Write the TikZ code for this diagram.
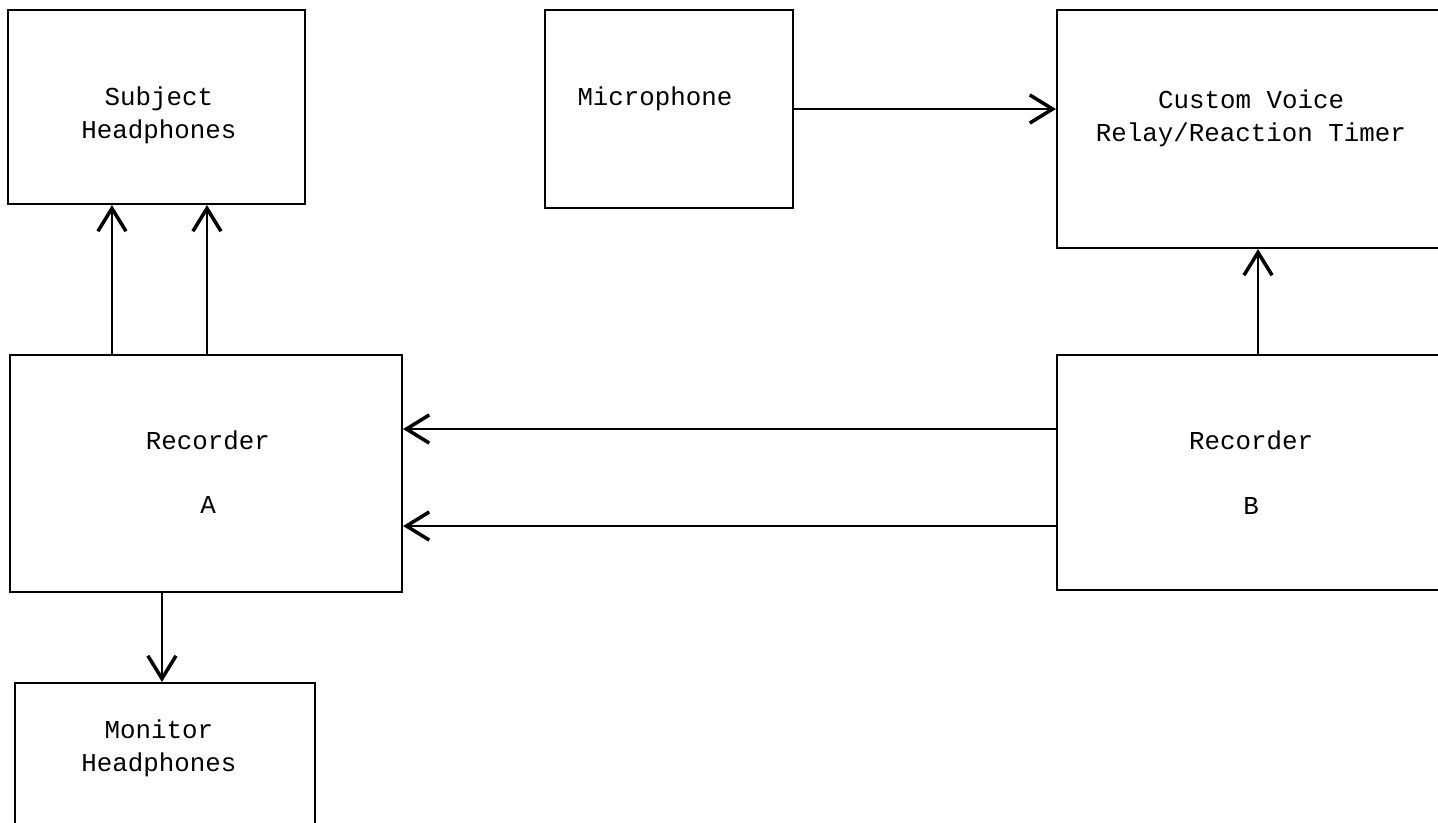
\documentclass[tikz,border=0pt]{standalone}
\usepackage{fontspec}
\usepackage{tikz}
\usetikzlibrary{arrows.meta, positioning}
\newfontfamily\typefont{Liberation Mono}

\tikzset{
    unit/.style={draw, line width=1.2pt, inner sep=0pt},
    lbl/.style={font=\typefont\fontsize{14.7}{18.8}\selectfont, align=center, inner sep=0pt},
    sig/.style={-{Straight Barb[length=13pt, width=16pt, line width=2pt]}, line width=1.1pt},
}

\begin{document}
\begin{tikzpicture}
    \useasboundingbox (0, 0) rectangle (28.76, -16.44);

    % boxes
    \node[unit, minimum width=5.94cm, minimum height=3.88cm] (subj) at (3.13, -2.14) {};
    \node[unit, minimum width=4.96cm, minimum height=3.96cm] (mic) at (13.38, -2.18) {};
    \node[unit, minimum width=7.76cm, minimum height=4.76cm] (timer) at (25.02, -2.58) {};
    \node[unit, minimum width=7.84cm, minimum height=4.74cm] (reca) at (4.12, -9.47) {};
    \node[unit, minimum width=7.76cm, minimum height=4.70cm] (recb) at (25.02, -9.45) {};
    \node[unit, minimum width=6.00cm, minimum height=3.14cm] (mon) at (3.30, -15.23) {};

    % texts
    \node[lbl] (subjlbl) at (3.18, -2.30) {Subject\\Headphones};
    \node[lbl] (miclbl) at (13.10, -1.98) {Microphone};
    \node[lbl] (timerlbl) at (25.02, -2.36) {Custom Voice\\Relay/Reaction Timer};
    \node[lbl] (recalbl) at (4.16, -9.44) {Recorder\\[18pt]A};
    \node[lbl] (recblbl) at (25.02, -9.45) {Recorder\\[18pt]B};
    \node[lbl] (monlbl) at (3.18, -14.96) {Monitor\\Headphones};

    % connections
    \draw[sig] ([xshift=2.06cm]reca.north west) -- ([xshift=2.06cm]reca.north west |- subj.south);
    \draw[sig] ([xshift=3.96cm]reca.north west) -- ([xshift=3.96cm]reca.north west |- subj.south);
    \draw[sig] (mic.east) -- (mic.east -| timer.west);
    \draw[sig] ([xshift=0.14cm]recb.north) -- ([xshift=0.14cm]recb.north |- timer.south);
    \draw[sig] ([yshift=0.87cm]recb.west) -- ([yshift=0.87cm]recb.west -| reca.east);
    \draw[sig] ([yshift=-1.07cm]recb.west) -- ([yshift=-1.07cm]recb.west -| reca.east);
    \draw[sig] ([xshift=3.06cm]reca.south west) -- ([xshift=3.06cm]reca.south west |- mon.north);
\end{tikzpicture}
\end{document}
